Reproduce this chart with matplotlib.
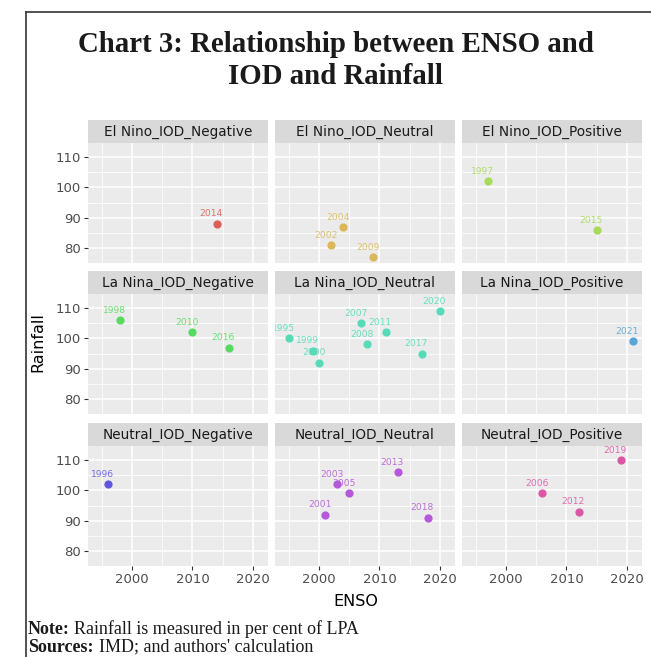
import matplotlib
matplotlib.use("Agg")
import matplotlib.pyplot as plt
from matplotlib.lines import Line2D

# facet order (row by row) and colour per facet
facets = ["El Nino_IOD_Negative", "El Nino_IOD_Neutral", "El Nino_IOD_Positive",
          "La Nina_IOD_Negative", "La Nina_IOD_Neutral", "La Nina_IOD_Positive",
          "Neutral_IOD_Negative", "Neutral_IOD_Neutral", "Neutral_IOD_Positive"]
colors = ["#db5f57", "#dbb757", "#a5db57", "#57db5f", "#57dbb7",
          "#57a5db", "#5f57db", "#b757db", "#db57a5"]

# data: year (ENSO axis), rainfall (% of LPA), facet index
years = [2014,
         2002, 2004, 2009,
         1997, 2015,
         1998, 2010, 2016,
         1995, 1999, 2000, 2007, 2008, 2011, 2017, 2020,
         2021,
         1996,
         2001, 2003, 2005, 2013, 2018,
         2006, 2012, 2019]
rainfall = [88,
            81, 87, 77,
            102, 86,
            106, 102, 97,
            100, 96, 92, 105, 98, 102, 95, 109,
            99,
            102,
            92, 102, 99, 106, 91,
            99, 93, 110]
group = [0,
         1, 1, 1,
         2, 2,
         3, 3, 3,
         4, 4, 4, 4, 4, 4, 4, 4,
         5,
         6,
         7, 7, 7, 7, 7,
         8, 8, 8]

x_major = [2000, 2010, 2020]
x_minor = [1995, 2005, 2015]
y_major = [80, 90, 100, 110]
y_minor = [75, 85, 95, 105]

W, H = 651, 657
fig = plt.figure(figsize=(W / 100, H / 100), dpi=100)

# panel geometry in pixels
col_x = [88, 275, 462]
pw = 180
strip_top = [120, 271, 423]
sh = 23
ph = 120


def px(x, y, w, h):
    return [x / W, 1 - (y + h) / H, w / W, h / H]


for i, name in enumerate(facets):
    r, c = divmod(i, 3)
    x0 = col_x[c]
    y0 = strip_top[r]

    # strip
    sax = fig.add_axes(px(x0, y0, pw, sh))
    sax.set_facecolor("#d9d9d9")
    sax.set_xticks([])
    sax.set_yticks([])
    for s in sax.spines.values():
        s.set_visible(False)
    sax.text(0.5, 0.5, name, ha="center", va="center", fontsize=9.8,
             color="#1a1a1a", transform=sax.transAxes)

    ax = fig.add_axes(px(x0, y0 + sh, pw, ph))
    ax.set_facecolor("#ebebeb")
    for s in ax.spines.values():
        s.set_visible(False)
    ax.set_xlim(1992.7, 2022.5)
    ax.set_ylim(75.1, 114.7)
    ax.set_xticks(x_major)
    ax.set_xticks(x_minor, minor=True)
    ax.set_yticks(y_major)
    ax.set_yticks(y_minor, minor=True)
    ax.grid(which="major", color="white", lw=1.1)
    ax.grid(which="minor", color="white", lw=0.55)
    ax.set_axisbelow(True)
    ax.tick_params(which="minor", length=0)
    ax.tick_params(which="major", length=3, width=0.8, color="#333333",
                   labelsize=9.5, labelcolor="#4d4d4d", pad=2)
    if c != 0:
        ax.tick_params(axis="y", which="major", length=0, labelleft=False)
    if r != 2:
        ax.tick_params(axis="x", which="major", length=0, labelbottom=False)

    xs = [y for y, g in zip(years, group) if g == i]
    ys = [v for v, g in zip(rainfall, group) if g == i]
    ax.scatter(xs, ys, s=24, color=colors[i], zorder=3, clip_on=False)
    for xv, yv in zip(xs, ys):
        t = ax.annotate(str(xv), (xv, yv), xytext=(-4, 7), textcoords="offset points",
                        ha="center", va="center", fontsize=6.6, color=colors[i],
                        alpha=0.85, annotation_clip=False)
        t.set_clip_on(True)
        t.set_clip_path(ax.patch)

# axis titles
fig.text(38 / W, 1 - 342 / H, "Rainfall", rotation=90, ha="center", va="center",
         fontsize=11.5, color="black")
fig.text(356 / W, 1 - 602 / H, "ENSO", ha="center", va="center",
         fontsize=11.5, color="black")

# title
fig.text(336 / W, 1 - 45 / H, "Chart 3: Relationship between ENSO and",
         ha="center", va="center", fontsize=20.8, fontweight="bold",
         family="Liberation Serif", color="#1a1a1a")
fig.text(336 / W, 1 - 77 / H, "IOD and Rainfall",
         ha="center", va="center", fontsize=20.8, fontweight="bold",
         family="Liberation Serif", color="#1a1a1a")

# footnotes
fig.text(28 / W, 1 - 629 / H, "Note:", ha="left", va="center", fontsize=13,
         fontweight="bold", family="Liberation Serif", color="#1a1a1a")
fig.text(74 / W, 1 - 629 / H, "Rainfall is measured in per cent of LPA", ha="left",
         va="center", fontsize=13, family="Liberation Serif", color="#1a1a1a")
fig.text(28 / W, 1 - 647 / H, "Sources:", ha="left", va="center", fontsize=13,
         fontweight="bold", family="Liberation Serif", color="#1a1a1a")
fig.text(99 / W, 1 - 647 / H, "IMD; and authors' calculation", ha="left",
         va="center", fontsize=13, family="Liberation Serif", color="#1a1a1a")

# outer frame (open at right and bottom)
fig.add_artist(Line2D([26 / W, 26 / W], [0, 1 - 12 / H], color="#333333", lw=1.2))
fig.add_artist(Line2D([26 / W, 1], [1 - 12 / H, 1 - 12 / H], color="#333333", lw=1.2))

fig.savefig("out.png", dpi=100)
